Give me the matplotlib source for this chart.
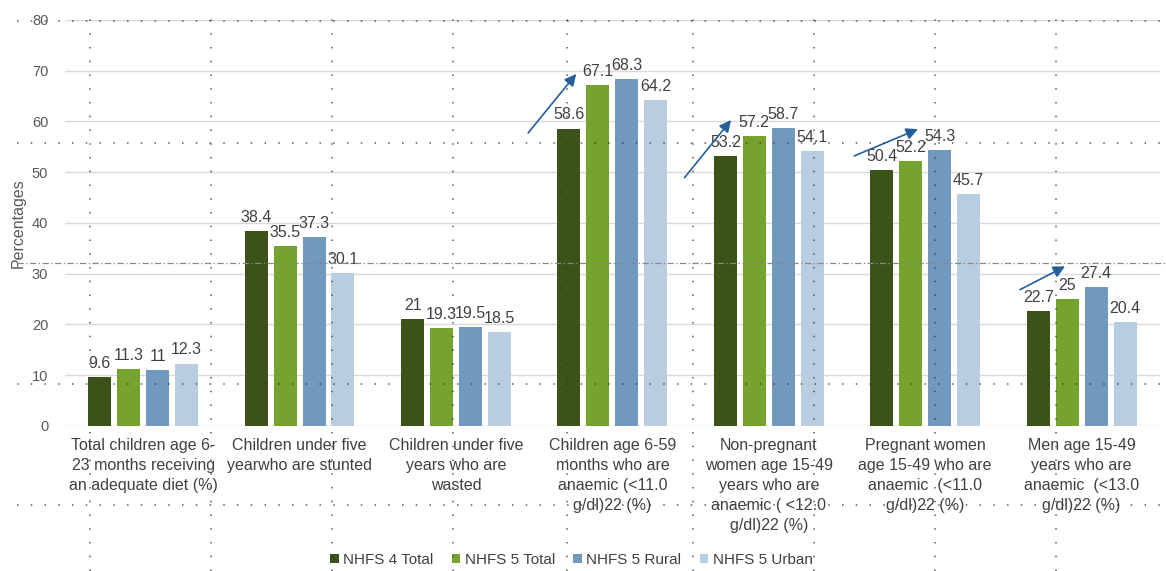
import matplotlib

matplotlib.use("Agg")
import matplotlib.pyplot as plt
import numpy as np
from matplotlib.lines import Line2D

plt.rcParams["font.family"] = ["Liberation Sans", "DejaVu Sans"]

# ── Data ───────────────────────────────────────────────────────────────

categories = [
    "Total children age 6-\n23 months receiving\nan adequate diet (%)",
    "Children under five\nyearwho are stunted",
    "Children under five\nyears who are\nwasted",
    "Children age 6-59\nmonths who are\nanaemic (<11.0\ng/dl)22 (%)",
    "Non-pregnant\nwomen age 15-49\nyears who are\nanaemic ( <12.0\ng/dl)22 (%)",
    "Pregnant women\nage 15-49 who are\nanaemic  (<11.0\ng/dl)22 (%)",
    "Men age 15-49\nyears who are\nanaemic  (<13.0\ng/dl)22 (%)",
]
series_names = ["NHFS 4 Total", "NHFS 5 Total", "NHFS 5 Rural", "NHFS 5 Urban"]
nfhs4_total = [9.6, 38.4, 21, 58.6, 53.2, 50.4, 22.7]
nfhs5_total = [11.3, 35.5, 19.3, 67.1, 57.2, 52.2, 25]
nfhs5_rural = [11, 37.3, 19.5, 68.3, 58.7, 54.3, 27.4]
nfhs5_urban = [12.3, 30.1, 18.5, 64.2, 54.1, 45.7, 20.4]
y_ticks = [0, 10, 20, 30, 40, 50, 60, 70, 80]

# trend arrows on the anaemia groups: (x0, y0, x1, y1)
arrows = [
    (2.45, 57.3, 2.78, 69.8),
    (3.45, 48.5, 3.77, 60.7),
    (4.53, 53.0, 4.97, 58.7),
    (5.59, 26.6, 5.91, 31.7),
]

COLORS = ["#3b5219", "#76a22e", "#7199c0", "#b9cde1"]
TEXT = "#404040"

# ── Plot ───────────────────────────────────────────────────────────────

fig = plt.figure(figsize=(11.66, 5.71), dpi=100)
ax = fig.add_axes([0.0557, 0.254, 0.939, 0.711])

x = np.arange(len(categories))
width = 0.147
step = 0.185
all_series = [nfhs4_total, nfhs5_total, nfhs5_rural, nfhs5_urban]
for i, (vals, name, col) in enumerate(zip(all_series, series_names, COLORS)):
    pos = x + (i - 1.5) * step
    ax.bar(pos, vals, width=width, color=col, label=name, zorder=2)
    for p, v in zip(pos, vals):
        ax.text(p, v + 1.2, f"{v:g}", ha="center", va="bottom",
                fontsize=11.5, color=TEXT, zorder=3)

for x0, y0, x1, y1 in arrows:
    ax.annotate("", xy=(x1, y1), xytext=(x0, y0),
                arrowprops=dict(arrowstyle="-|>,head_length=0.7,head_width=0.35",
                                color="#245f9c", lw=1.2), zorder=4)

ax.set_xlim(-0.5, len(categories) - 0.5)
ax.set_ylim(0, 80)
ax.set_yticks(y_ticks)
ax.set_xticks(x)
ax.set_xticklabels(categories, fontsize=11.5, color=TEXT, linespacing=1.4)
ax.tick_params(axis="y", labelsize=10.5, colors="#595959", length=0, pad=12)
ax.tick_params(axis="x", length=0, pad=9)
ax.grid(axis="y", color="#d9d9d9", lw=1, zorder=0)
for s in ax.spines.values():
    s.set_visible(False)
ax.set_ylabel("Percentages", fontsize=11.5, color="#595959")
ax.yaxis.set_label_coords(-0.036, 0.5)

fig.legend(loc="lower center", bbox_to_anchor=(0.49, -0.017), ncol=4,
           frameon=False, fontsize=11, handlelength=0.55, handleheight=0.55,
           handletextpad=0.3, columnspacing=1.2, labelcolor=TEXT)

# page layout guides printed over the chart
dot = (0, (1, 8))
for px in [90, 211, 332, 453, 567, 693, 814, 935, 1056]:
    fig.add_artist(Line2D([px / 1166, px / 1166], [0, 0.985], transform=fig.transFigure,
                          color="#333333", lw=1.1, ls=dot, alpha=0.8, zorder=10))
for py in [21, 143, 384, 505]:
    fig.add_artist(Line2D([0.015, 1], [1 - py / 571] * 2, transform=fig.transFigure,
                          color="#333333", lw=1.1, ls=dot, alpha=0.8, zorder=10))
fig.add_artist(Line2D([0.015, 1], [1 - 263 / 571] * 2, transform=fig.transFigure,
                      color="#888888", lw=0.9, ls=(0, (5, 2, 1, 2)), zorder=10))

fig.savefig("out.png", dpi=100, facecolor="white")
